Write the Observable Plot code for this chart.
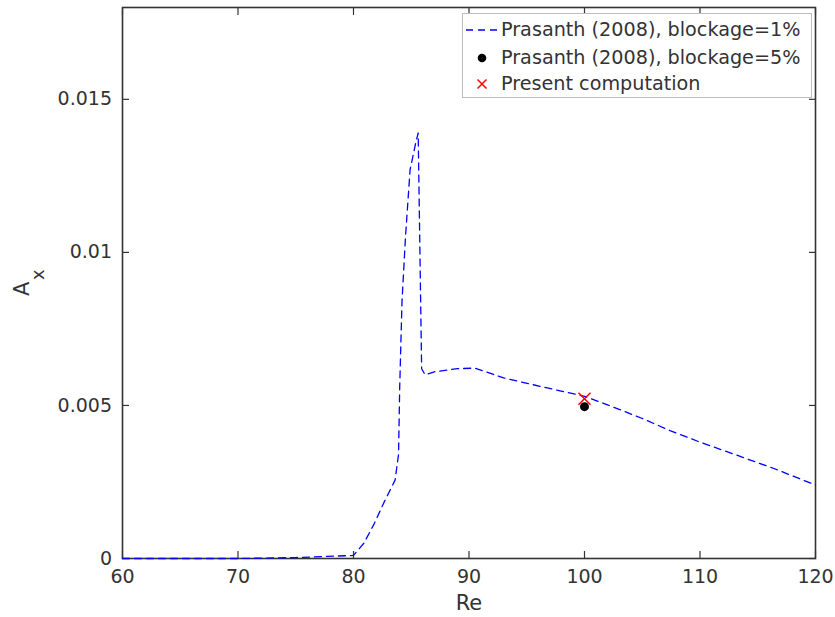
<!DOCTYPE html>
<html><head><meta charset="utf-8">
<script src="https://cdn.jsdelivr.net/npm/d3@7"></script>
<script src="https://cdn.jsdelivr.net/npm/@observablehq/plot@0.6"></script>
<style>
body{margin:0;background:#fff;font-family:"DejaVu Sans",sans-serif;}
#wrap{position:relative;width:835px;height:617px;}
#legend{position:absolute;left:462px;top:13px;width:350px;height:85px;border:1px solid #bdbdbd;background:#fff;box-sizing:border-box;font-size:19.2px;color:#333;}
.row{position:absolute;left:0;height:26px;line-height:26px;white-space:nowrap;}
.row svg{position:absolute;left:2px;top:0;}
.row span{position:absolute;left:38px;top:0;}
</style>
</head><body>
<div id="wrap"><div id="chart"></div>
<div id="legend">
  <div class="row" style="top:3px"><svg width="36" height="26"><line x1="1" x2="35" y1="13" y2="13" stroke="#0000ff" stroke-width="1.3" stroke-dasharray="7,5"/></svg><span>Prasanth (2008), blockage=1%</span></div>
  <div class="row" style="top:31px"><svg width="36" height="26"><circle cx="17" cy="13" r="4.3" fill="black"/></svg><span>Prasanth (2008), blockage=5%</span></div>
  <div class="row" style="top:57px"><svg width="36" height="26"><path d="M12.5,8.5L21.5,17.5M21.5,8.5L12.5,17.5" stroke="red" stroke-width="1.5"/></svg><span>Present computation</span></div>
</div>
</div>
<script>
const reLine = [60, 70, 75, 80, 80.9, 81.8, 82.6, 83.6, 83.9, 84.0, 84.2, 84.5, 84.9, 85.4, 85.6, 85.9, 86.2, 87, 89, 90.5, 93, 96.2, 100, 102, 104.9, 107.4, 110, 113, 116.4, 120];
const axLine = [0, 0, 0.00003, 0.0001, 0.0005, 0.00114, 0.0018, 0.00256, 0.0034, 0.0056, 0.0084, 0.0105, 0.0127, 0.0136, 0.0139, 0.0062, 0.006, 0.0061, 0.0062, 0.00622, 0.0059, 0.00562, 0.0053, 0.00502, 0.00459, 0.00418, 0.0038, 0.0034, 0.00294, 0.0024];
const reDot = [100];
const axDot = [0.00496];
const reCross = [100];
const axCross = [0.00522];
const xTicks = [60, 70, 80, 90, 100, 110, 120];
const yTicks = [0, 0.005, 0.01, 0.015];

const lineData = reLine.map((re, i) => ({re, ax: axLine[i]}));
const dotData = reDot.map((re, i) => ({re, ax: axDot[i]}));
const crossData = reCross.map((re, i) => ({re, ax: axCross[i]}));
const ink = "#333";

const chart = Plot.plot({
  width: 835, height: 617,
  marginLeft: 122, marginRight: 20, marginTop: 7, marginBottom: 59,
  x: {domain: [60, 120]},
  y: {domain: [0, 0.018]},
  style: {fontFamily: "DejaVu Sans", fontSize: "19px", color: ink, background: "white"},
  marks: [
    Plot.axisX({ticks: xTicks, tickSize: -7, tickPadding: 18, label: null, stroke: ink, strokeWidth: 1.2, fill: ink, fontSize: 19}),
    Plot.axisX({anchor: "top", ticks: xTicks, tickSize: -7, tickFormat: () => "", label: null, stroke: ink, strokeWidth: 1.2}),
    Plot.axisY({ticks: yTicks, tickSize: -7, tickPadding: 17.5, tickFormat: d => d === 0 ? "0" : String(d), label: null, stroke: ink, strokeWidth: 1.2, fill: ink, fontSize: 19}),
    Plot.axisY({anchor: "right", ticks: yTicks, tickSize: -7, tickFormat: () => "", label: null, stroke: ink, strokeWidth: 1.2}),
    Plot.frame({stroke: ink, strokeWidth: 1.6}),
    Plot.line(lineData, {x: "re", y: "ax", stroke: "#0000ff", strokeWidth: 1.3, strokeDasharray: "7,5"}),
    Plot.dot(dotData, {x: "re", y: "ax", r: 4.5, fill: "black"}),
    Plot.dot(crossData, {x: "re", y: "ax", symbol: "times", r: 5.5, stroke: "red", strokeWidth: 1.5}),
    Plot.text(["Re"], {frameAnchor: "bottom", dy: 51, fontSize: 21, fill: ink}),
    Plot.text(["A"], {frameAnchor: "left", rotate: -90, dx: -100.5, dy: 13, fontSize: 21, fill: ink}),
    Plot.text(["x"], {frameAnchor: "left", rotate: -90, dx: -84, dy: -3, fontSize: 18, fill: ink})
  ]
});
document.getElementById("chart").appendChild(chart);
</script>
</body></html>
